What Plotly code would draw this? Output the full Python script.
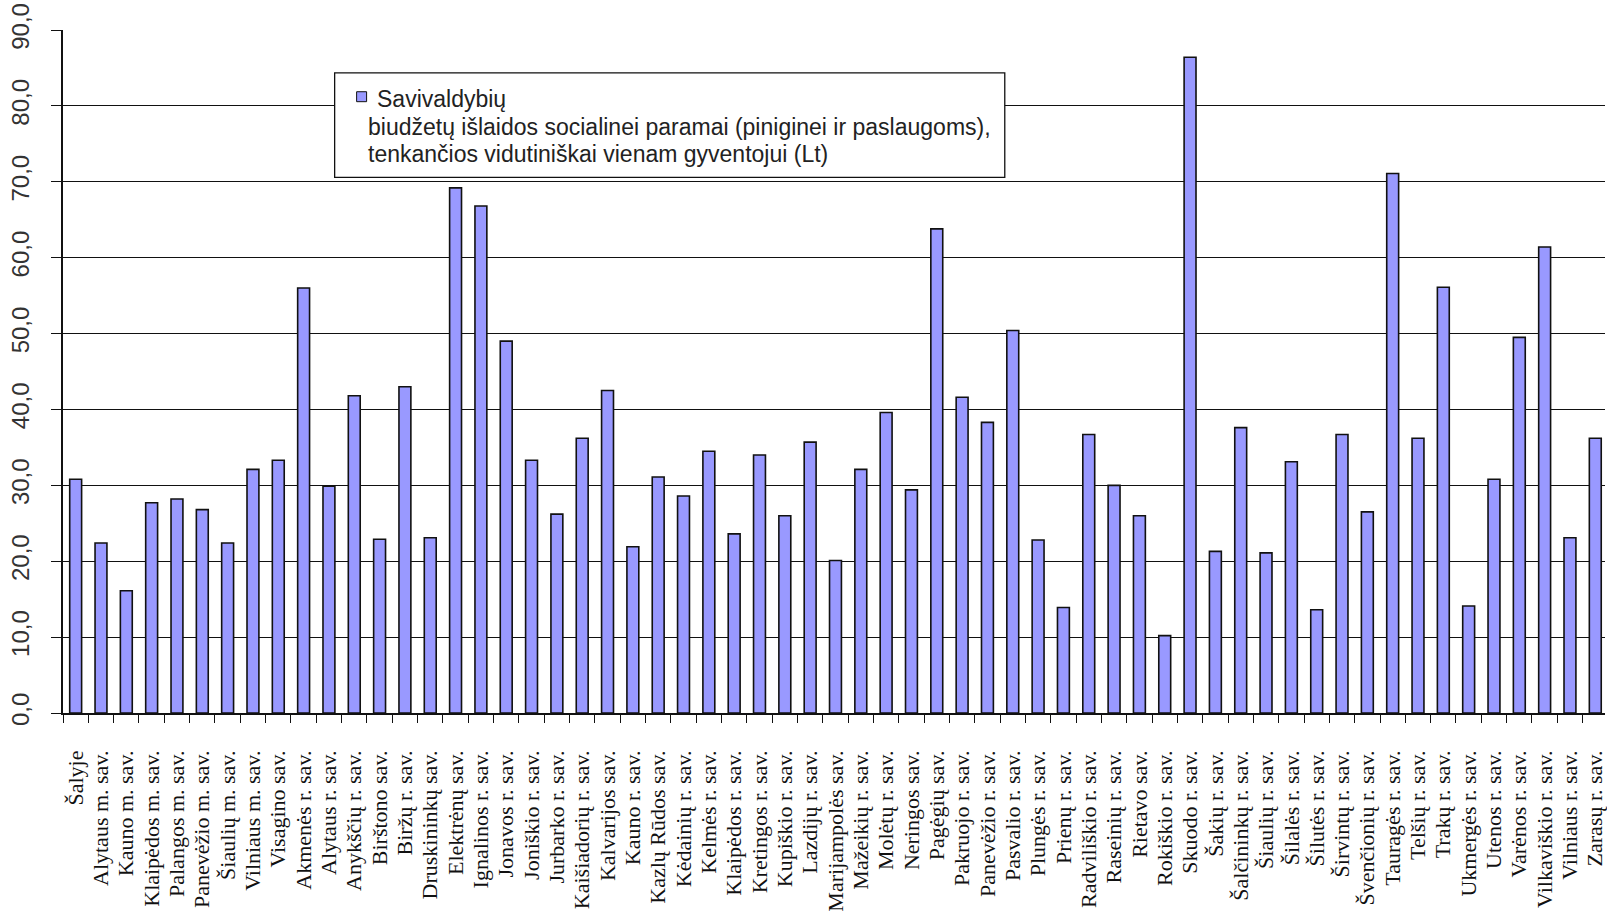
import plotly.graph_objects as go

# Municipal budget spending on social assistance per resident (Lt)
municipalities = [
    "Šalyje", "Alytaus m. sav.", "Kauno m. sav.", "Klaipėdos m. sav.", "Palangos m. sav.",
    "Panevėžio m. sav.", "Šiaulių m. sav.", "Vilniaus m. sav.", "Visagino sav.", "Akmenės r. sav.",
    "Alytaus r. sav.", "Anykščių r. sav.", "Birštono sav.", "Biržų r. sav.", "Druskininkų sav.",
    "Elektrėnų sav.", "Ignalinos r. sav.", "Jonavos r. sav.", "Joniškio r. sav.", "Jurbarko r. sav.",
    "Kaišiadorių r. sav.", "Kalvarijos sav.", "Kauno r. sav.", "Kazlų Rūdos sav.", "Kėdainių r. sav.",
    "Kelmės r. sav.", "Klaipėdos r. sav.", "Kretingos r. sav.", "Kupiškio r. sav.", "Lazdijų r. sav.",
    "Marijampolės sav.", "Mažeikių r. sav.", "Molėtų r. sav.", "Neringos sav.", "Pagėgių sav.",
    "Pakruojo r. sav.", "Panevėžio r. sav.", "Pasvalio r. sav.", "Plungės r. sav.", "Prienų r. sav.",
    "Radviliškio r. sav.", "Raseinių r. sav.", "Rietavo sav.", "Rokiškio r. sav.", "Skuodo r. sav.",
    "Šakių r. sav.", "Šalčininkų r. sav.", "Šiaulių r. sav.", "Šilalės r. sav.", "Šilutės r. sav.",
    "Širvintų r. sav.", "Švenčionių r. sav.", "Tauragės r. sav.", "Telšių r. sav.", "Trakų r. sav.",
    "Ukmergės r. sav.", "Utenos r. sav.", "Varėnos r. sav.", "Vilkaviškio r. sav.", "Vilniaus r. sav.",
    "Zarasų r. sav.",
]

spending_per_capita = [
    30.8, 22.4, 16.1, 27.7, 28.2,
    26.8, 22.4, 32.1, 33.3, 56.0,
    29.9, 41.8, 22.9, 43.0, 23.1,
    69.2, 66.8, 49.0, 33.3, 26.2,
    36.2, 42.5, 21.9, 31.1, 28.6,
    34.5, 23.6, 34.0, 26.0, 35.7,
    20.1, 32.1, 39.6, 29.4, 63.8,
    41.6, 38.3, 50.4, 22.8, 13.9,
    36.7, 30.0, 26.0, 10.2, 86.4,
    21.3, 37.6, 21.1, 33.1, 13.6,
    36.7, 26.5, 71.1, 36.2, 56.1,
    14.1, 30.8, 49.5, 61.4, 23.1,
    36.2,
]

series_name_lines = [
    "Savivaldybių",
    "biudžetų išlaidos socialinei paramai (piniginei ir paslaugoms),",
    "tenkančios vidutiniškai vienam gyventojui (Lt)",
]

W, H = 1607, 912
M_L, M_R, M_T, M_B = 63, 0, 30, 196
PLOT_W = W - M_L - M_R
PLOT_H = H - M_T - M_B
BAR_FILL = "#9999ff"
INK = "#111111"


def px_x(x):
    return (x - M_L) / PLOT_W


def px_y(y):
    return (H - M_B - y) / PLOT_H


fig = go.Figure(
    go.Bar(
        x=municipalities,
        y=spending_per_capita,
        width=0.47,
        marker=dict(color=BAR_FILL, line=dict(color=INK, width=1.6)),
        showlegend=False,
    )
)

# legend box drawn by hand so the marker sits on the first text line
box = dict(x0=335, y0=73, x1=1006, y1=178)
fig.add_shape(
    type="rect", xref="paper", yref="paper",
    x0=px_x(box["x0"]), x1=px_x(box["x1"]), y0=px_y(box["y1"]), y1=px_y(box["y0"]),
    line=dict(color=INK, width=1.3), fillcolor="white", layer="above",
)
fig.add_shape(
    type="rect", xref="paper", yref="paper",
    x0=px_x(357), x1=px_x(367), y0=px_y(102), y1=px_y(92),
    line=dict(color=INK, width=1), fillcolor=BAR_FILL, layer="above",
)
legend_font = dict(family="Liberation Sans, Arial, sans-serif", size=23, color="#222222")
line_pos = [(375, 99), (366, 127), (366, 155)]
for text, (lx, ly) in zip(series_name_lines, line_pos):
    fig.add_annotation(
        xref="paper", yref="paper", x=px_x(lx), y=px_y(ly),
        xanchor="left", yanchor="middle", text=text, showarrow=False,
        font=legend_font, align="left",
    )

fig.update_layout(
    width=W, height=H,
    margin=dict(l=M_L, r=M_R, t=M_T, b=M_B, pad=0),
    paper_bgcolor="white", plot_bgcolor="white",
    separators=", ",
)

fig.update_xaxes(
    type="category",
    range=[-0.5, -0.5 + PLOT_W / 25.36],
    tickmode="linear", tick0=0, dtick=1,
    tickangle=-90,
    tickson="boundaries",
    ticks="outside", ticklen=8, tickwidth=1.3, tickcolor=INK,
    showline=True, linecolor=INK, linewidth=1.5,
    showgrid=False, zeroline=False,
    ticklabelstandoff=27,
    tickfont=dict(family="Liberation Serif, Times New Roman, serif", size=22, color=INK),
)

fig.update_yaxes(
    range=[0, 90], dtick=10, tick0=0, tickformat=".1f",
    tickangle=-90,
    ticks="outside", ticklen=10, tickwidth=1.3, tickcolor=INK,
    showline=True, linecolor=INK, linewidth=1.5,
    showgrid=True, gridcolor=INK, gridwidth=1.4,
    zeroline=False,
    ticklabelstandoff=13,
    tickfont=dict(family="Liberation Sans, Arial, sans-serif", size=24, color="#333333"),
)

fig.write_html("out.html")
